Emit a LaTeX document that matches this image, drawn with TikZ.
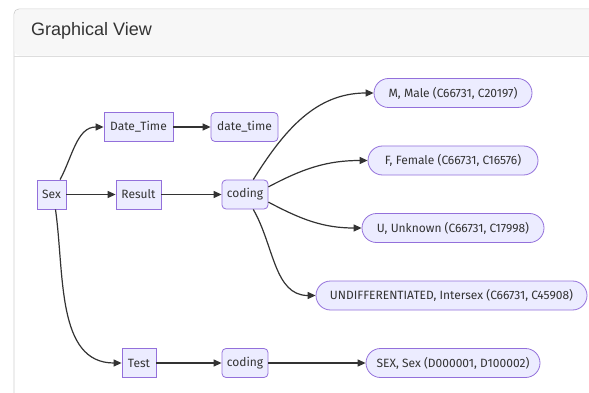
\documentclass[tikz,border=0pt]{standalone}
\usepackage{fontspec}
\setmainfont{Fira Sans}
\newfontfamily\titlefont{Liberation Sans}
\usetikzlibrary{arrows.meta}
\definecolor{nodefill}{HTML}{ECECFF}
\definecolor{nodeline}{HTML}{9370DB}
\definecolor{edgeline}{HTML}{333333}
\definecolor{headfill}{HTML}{F7F7F7}
\definecolor{panelline}{HTML}{CFCFCF}
\tikzset{
	box/.style={draw=nodeline, fill=nodefill, line width=0.8pt, minimum height=29pt, inner sep=2pt, text=edgeline, font=\fontsize{12}{14}\selectfont},
	roundbox/.style={box, rounded corners=4pt},
	pill/.style={box, rounded corners=14.5pt},
	edge/.style={draw=edgeline, line width=1.2pt, -{Triangle[length=8pt,width=7pt]}}
}

\begin{document}
\begin{tikzpicture}[x=1pt,y=-1pt]
			%%%%% START %%%%%
			\useasboundingbox (0,0) rectangle (589,393);
			
			% panel and header
			\draw[panelline, fill=white, line width=0.8pt, rounded corners=5pt] (14,410) -- (14,9) -- (600,9);
			\fill[headfill, rounded corners=5pt] (14.4,9.4) rectangle (600,55.6);
			\draw[panelline!70, line width=0.8pt] (14,56) -- (600,56);
			\node[anchor=base west, inner sep=0pt, text=edgeline, font=\titlefont\fontsize{18}{20}\selectfont] (title) at (31,36) {Graphical View};
			
			% first rank
			\node[box, minimum width=29pt] (sex) at (51.5,194.5) {Sex};
			
			% second rank
			\node[box, minimum width=69pt] (dateA) at (138.5,127) {Date\_Time};
			\node[box, minimum width=45pt] (result) at (138.5,194.5) {Result};
			\node[box, minimum width=34pt] (test) at (139,363) {Test};
			
			% third rank
			\node[roundbox, minimum width=67pt] (dateB) at (244.5,127) {date\_time};
			\node[roundbox, minimum width=46pt] (codingA) at (245,194.5) {coding};
			\node[roundbox, minimum width=46pt] (codingB) at (245,363) {coding};
			
			% values
			\node[pill, minimum width=158pt] (male) at (453,93) {M, Male (C66731, C20197)};
			\node[pill, minimum width=170pt] (female) at (453,160.5) {F, Female (C66731, C16576)};
			\node[pill, minimum width=182pt] (unknown) at (453,228) {U, Unknown (C66731, C17998)};
			\node[pill, minimum width=271pt] (undiff) at (451.5,295.5) {UNDIFFERENTIATED, Intersex (C66731, C45908)};
			\node[pill, minimum width=174pt] (sexcode) at (453,363) {SEX, Sex (D000001, D100002)};
			
			% connectors
			\draw[edge] (sex.60) to[out=62, in=180] (dateA.west);
			\draw[edge] (dateA) -- (dateB);
			\draw[edge] (sex) -- (result);
			\draw[edge] (result) -- (codingA);
			\draw[edge] (sex.-75) to[out=-82, in=180] (test.west);
			\draw[edge] (test) -- (codingB);
			\draw[edge] (codingB) -- (sexcode);
			
			\draw[edge] (codingA.61) to[out=58, in=180] (male.west);
			\draw[edge] (codingA.18) to[out=28, in=180] (female.west);
			\draw[edge] (codingA.-18) to[out=-28, in=180] (unknown.west);
			\draw[edge] (codingA.-61) to[out=-60, in=180] (undiff.west);
			
			%%%%% END %%%%%
		\end{tikzpicture}
\end{document}
